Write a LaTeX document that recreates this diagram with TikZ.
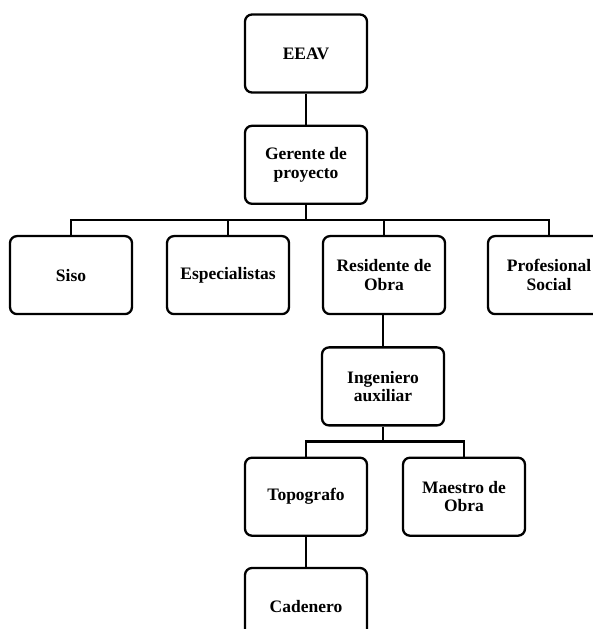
\documentclass[tikz,border=0pt]{standalone}
\usepackage{fontspec}
\setmainfont{Liberation Serif}
\usetikzlibrary{positioning, calc}
\tikzset{
    box/.style={draw=black, line width=2.3pt, fill=white, rounded corners=7pt, align=center,
        minimum width=122pt, minimum height=78pt, inner sep=2pt,
        font=\fontsize{17.5}{18.5}\selectfont\bfseries},
    line/.style={draw=black, line width=2.3pt}
}
\begin{document}
\begin{tikzpicture}[x=1pt, y=1pt]
        \useasboundingbox (0,0) rectangle (593,629);
        \node [box] (eeav) at (306,575.5) {EEAV};
        \node [box, below=31pt of eeav] (ger) {Gerente de\\proyecto};
        \draw [line] (eeav) -- (ger);

        % Row 1
        \node [box, below=30pt of ger, xshift=-235pt] (siso) {Siso};
        \node [box, below=30pt of ger, xshift=-78pt] (esp) {Especialistas};
        \node [box, below=30pt of ger, xshift=78pt] (res) {Residente de\\Obra};
        \node [box, below=30pt of ger, xshift=243pt] (prof) {Profesional\\Social};

        \coordinate (b1) at ($(ger.south)!0.5!(ger.south |- res.north)$);
        \draw [line] (ger.south) -- (b1);
        \draw [line] (siso.north) |- (b1);
        \draw [line] (esp.north) |- (b1);
        \draw [line] (res.north) |- (b1);
        \draw [line] (prof.north) |- (b1);

        % Row 2
        \node [box, below=31pt of res, xshift=-1pt] (ing) {Ingeniero\\auxiliar};
        \draw [line] (res.south -| ing.north) -- (ing.north);

        % Row 3
        \node [box, below=30pt of ing, xshift=-77pt] (topo) {Topografo};
        \node [box, below=30pt of ing, xshift=81pt] (maes) {Maestro de\\Obra};

        \coordinate (b2) at ($(ing.south)!0.5!(ing.south |- topo.north)$);
        \draw [line] (ing.south) -- (b2);
        \draw [line] (topo.north) |- (b2);
        \draw [line] (maes.north) |- (b2);

        % Row 4
        \node [box, below=30pt of topo] (cad) {Cadenero};
        \draw [line] (topo) -- (cad);
    \end{tikzpicture}
\end{document}
